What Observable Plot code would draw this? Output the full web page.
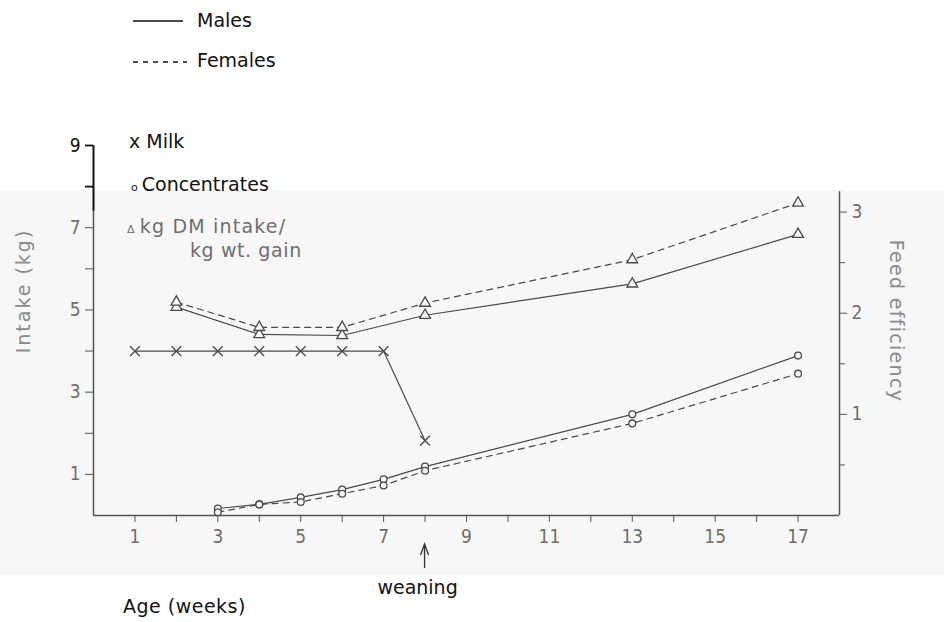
<!DOCTYPE html>
<html>
<head>
<meta charset="utf-8">
<script src="https://cdn.jsdelivr.net/npm/d3@7"></script>
<script src="https://cdn.jsdelivr.net/npm/@observablehq/plot@0.6"></script>
<style>
  body { margin: 0; background: #ffffff; }
  #wrap { position: relative; width: 944px; height: 622px; overflow: hidden; font-family: "DejaVu Sans", sans-serif; }
  #band { position: absolute; left: 0; top: 190px; width: 944px; height: 385px; background: #f7f7f7; }
  #chart { position: absolute; left: 0; top: 0; }
  #notes { position: absolute; left: 0; top: 0; pointer-events: none; }
</style>
</head>
<body>
<div id="wrap">
  <div id="band"></div>
  <div id="chart"></div>
  <svg id="notes" width="944" height="622"></svg>
</div>
<script>
// ---- data ----
const milkWeeks = [1, 2, 3, 4, 5, 6, 7, 8];
const milkIntake = [4.0, 4.0, 4.0, 4.0, 4.0, 4.0, 4.0, 1.82];

const concWeeks = [3, 4, 5, 6, 7, 8, 13, 17];
const concMales = [0.17, 0.27, 0.44, 0.63, 0.88, 1.19, 2.46, 3.89];
const concFemales = [0.08, 0.27, 0.33, 0.53, 0.73, 1.09, 2.24, 3.45];

const feWeeks = [2, 4, 6, 8, 13, 17];
const feMales = [2.06, 1.79, 1.78, 1.98, 2.29, 2.78];
const feFemales = [2.11, 1.86, 1.86, 2.10, 2.53, 3.09];

const xTicks = d3.range(1, 18);
const yTicksTop = [8, 9];
const yTicksBand = [1, 2, 3, 4, 5, 6, 7];
const feMajorTicks = [1, 2, 3];
const feMinorTicks = [0.5, 1.5, 2.5];
const feAxisTop = 3.2;
const weaningWeek = 8;

const legendSex = ["Males", "Females"];
const legendSymbols = ["Milk", "Concentrates", "kg DM intake/", "kg wt. gain"];

// one feed-efficiency unit expressed in intake (kg) units of the left axis
const k = 2.46;

// ---- tables ----
const milk = milkWeeks.map((w, i) => ({week: w, v: milkIntake[i]}));
const conc = [
  ...concWeeks.map((w, i) => ({week: w, v: concMales[i], sex: "M"})),
  ...concWeeks.map((w, i) => ({week: w, v: concFemales[i], sex: "F"}))
];
const fe = [
  ...feWeeks.map((w, i) => ({week: w, v: feMales[i] * k, sex: "M"})),
  ...feWeeks.map((w, i) => ({week: w, v: feFemales[i] * k, sex: "F"}))
];

const lineCol = "#4a4a4a";
const bandText = "#6e6e6e";
const dash = "6,5";
const font = "'DejaVu Sans', sans-serif";
const tickFont = "'DejaVu Sans Condensed', 'DejaVu Sans', sans-serif";

const plot = Plot.plot({
  width: 944,
  height: 622,
  marginLeft: 93,
  marginRight: 105,
  marginTop: 145,
  marginBottom: 107,
  style: {background: "transparent", fontFamily: tickFont, fontSize: "19px", color: bandText},
  x: {domain: [0, 18]},
  y: {domain: [0, 9]},
  marks: [
    // axis lines
    Plot.ruleX([0], {y1: 0, y2: 7.4, stroke: "#555", strokeWidth: 1.5}),
    Plot.ruleX([0], {y1: 7.4, y2: 9, stroke: "#111", strokeWidth: 2}),
    Plot.ruleY([0], {x1: 0, x2: 18, stroke: "#555", strokeWidth: 1.5}),
    Plot.ruleX([18], {y1: 0, y2: feAxisTop * k, stroke: "#555", strokeWidth: 1.5}),
    // axes
    Plot.axisX({ticks: xTicks, tickFormat: d => (d % 2 ? d : ""), tickSize: 7, tickPadding: 7, label: null, fontSize: 19, stroke: "#555", fill: bandText}),
    Plot.axisY({ticks: yTicksBand, tickFormat: d => (d % 2 ? d : ""), tickSize: 8, tickPadding: 5, label: null, fontSize: 19, stroke: "#555", fill: bandText}),
    Plot.axisY({ticks: yTicksTop, tickFormat: d => (d % 2 ? d : ""), tickSize: 8, tickPadding: 5, label: null, fontSize: 19, stroke: "#111", strokeWidth: 1.8, fill: "#111"}),
    Plot.axisY({anchor: "right", ticks: feMajorTicks.map(v => v * k), tickFormat: d => Math.round(d / k), tickSize: 7, tickPadding: 5, label: null, fontSize: 19, stroke: "#555", fill: bandText}),
    Plot.axisY({anchor: "right", ticks: feMinorTicks.map(v => v * k), tickFormat: () => "", tickSize: 5, label: null, stroke: "#555"}),
    // milk
    Plot.line(milk, {x: "week", y: "v", stroke: lineCol, strokeWidth: 1.2}),
    Plot.dot(milk, {x: "week", y: "v", symbol: "times", r: 4.5, stroke: lineCol, strokeWidth: 1.3}),
    // concentrates
    Plot.line(conc.filter(d => d.sex === "M"), {x: "week", y: "v", stroke: lineCol, strokeWidth: 1.2}),
    Plot.line(conc.filter(d => d.sex === "F"), {x: "week", y: "v", stroke: lineCol, strokeWidth: 1.2, strokeDasharray: dash}),
    Plot.dot(conc, {x: "week", y: "v", symbol: "circle", r: 3.4, stroke: lineCol, fill: "#f7f7f7", strokeWidth: 1.3}),
    // feed efficiency
    Plot.line(fe.filter(d => d.sex === "M"), {x: "week", y: "v", stroke: lineCol, strokeWidth: 1.2}),
    Plot.line(fe.filter(d => d.sex === "F"), {x: "week", y: "v", stroke: lineCol, strokeWidth: 1.2, strokeDasharray: dash}),
    Plot.dot(fe, {x: "week", y: "v", symbol: "triangle", r: 4, stroke: lineCol, fill: "#f7f7f7", strokeWidth: 1.3})
  ]
});
document.getElementById("chart").appendChild(plot);

// ---- annotations ----
const xs = plot.scale("x");
const svg = d3.select("#notes");

// top sex legend
svg.append("line").attr("x1", 133).attr("x2", 183).attr("y1", 21).attr("y2", 21)
  .attr("stroke", "#111").attr("stroke-width", 1.6);
svg.append("text").attr("x", 197).attr("y", 27).attr("fill", "#111")
  .attr("font-family", font).attr("font-size", 19).text(legendSex[0]);
svg.append("line").attr("x1", 133).attr("x2", 187).attr("y1", 62).attr("y2", 62)
  .attr("stroke", "#111").attr("stroke-width", 1.6).attr("stroke-dasharray", "5,5");
svg.append("text").attr("x", 197).attr("y", 67).attr("fill", "#111")
  .attr("font-family", font).attr("font-size", 19).text(legendSex[1]);

// symbol legend inside the plot
const t1 = svg.append("text").attr("x", 129).attr("y", 148).attr("fill", "#111")
  .attr("font-family", font).attr("font-size", 19);
t1.append("tspan").text("x ");
t1.append("tspan").text(legendSymbols[0]);

const t2 = svg.append("text").attr("x", 131).attr("y", 191).attr("fill", "#111")
  .attr("font-family", font).attr("font-size", 19);
t2.append("tspan").attr("font-size", 11).text("o");
t2.append("tspan").attr("dx", 4).text(legendSymbols[1]);

const t3 = svg.append("text").attr("x", 127).attr("y", 233).attr("fill", bandText)
  .attr("font-family", font).attr("font-size", 19).attr("letter-spacing", 1.2);
t3.append("tspan").attr("font-size", 11).text("Δ");
t3.append("tspan").attr("dx", 4).text(legendSymbols[2]);
svg.append("text").attr("x", 190).attr("y", 257).attr("fill", bandText)
  .attr("font-family", font).attr("font-size", 19).attr("letter-spacing", 0.6).text(legendSymbols[3]);

// axis titles
svg.append("text").attr("transform", "translate(30,291) rotate(-90)").attr("text-anchor", "middle")
  .attr("fill", "#8a8a8a").attr("font-family", font).attr("font-size", 19).attr("letter-spacing", 2)
  .text("Intake (kg)");
svg.append("text").attr("transform", "translate(890,321) rotate(90)").attr("text-anchor", "middle")
  .attr("fill", "#8a8a8a").attr("font-family", font).attr("font-size", 19).attr("letter-spacing", 1.3)
  .text("Feed efficiency");
svg.append("text").attr("x", 123).attr("y", 613).attr("fill", "#111")
  .attr("font-family", font).attr("font-size", 19).attr("letter-spacing", 0.5).text("Age (weeks)");

// weaning arrow
const wx = xs.apply(weaningWeek);
svg.append("line").attr("x1", wx).attr("x2", wx).attr("y1", 545).attr("y2", 568)
  .attr("stroke", "#333").attr("stroke-width", 1.3);
svg.append("path").attr("d", `M${wx - 4},${555} L${wx},${544} L${wx + 4},${555}`)
  .attr("fill", "none").attr("stroke", "#333").attr("stroke-width", 1.3);
svg.append("text").attr("x", wx - 7).attr("y", 594).attr("text-anchor", "middle").attr("fill", "#111")
  .attr("font-family", font).attr("font-size", 19).text("weaning");
</script>
</body>
</html>
